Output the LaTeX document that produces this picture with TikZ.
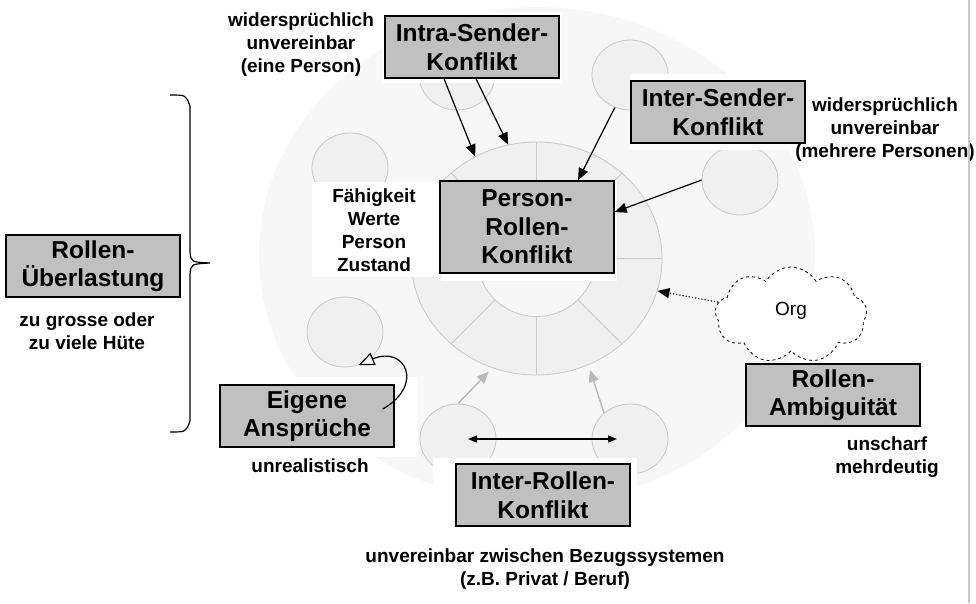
\documentclass[tikz,border=0pt]{standalone}
\usepackage{fontspec}
\setmainfont{Liberation Sans}
\usetikzlibrary{arrows.meta,calc,shapes.geometric,shapes.symbols}

\definecolor{boxgray}{RGB}{192,192,192}
\definecolor{bggray}{RGB}{247,247,247}
\definecolor{ringgray}{RGB}{240,240,240}
\definecolor{edgegray}{RGB}{200,200,200}
\definecolor{arrgray}{RGB}{185,185,185}

\newcommand{\boxfont}{\fontsize{24.5}{28.5}\selectfont\bfseries}
\newcommand{\lblfont}{\fontsize{19}{23}\selectfont\bfseries}

\begin{document}
\begin{tikzpicture}[x=1pt,y=-1pt,
  box/.style={draw,line width=1.5pt,fill=boxgray,align=center,font=\boxfont,
    minimum width=174pt,minimum height=62pt,inner sep=0pt},
  lbl/.style={align=center,font=\lblfont,inner sep=0pt},
  bub/.style={ellipse,draw=edgegray,fill=ringgray,line width=0.8pt,inner sep=0pt,
    minimum width=76pt,minimum height=70pt},
  arr/.style={-{Triangle[length=12pt,width=10pt]},line width=1.2pt},
  garr/.style={arr,arrgray,line width=1.4pt}]
  \useasboundingbox (0,0) rectangle (976,603);
  % background disc
  \fill[bggray] (537,255) ellipse [x radius=278, y radius=248];
  % ring of the person
  \node[ellipse,draw=edgegray,fill=ringgray,line width=0.8pt,inner sep=0pt,
    minimum width=251pt,minimum height=233pt] (ring) at (536.5,258.5) {};
  \node[ellipse,draw=edgegray,fill=bggray,line width=0.8pt,inner sep=0pt,
    minimum width=118pt,minimum height=116pt] (core) at (ring.center) {};
  \foreach \a in {0,45,...,315}
    \draw[edgegray,line width=0.8pt] (core.\a) -- (ring.\a);
  % senders
  \node[bub] (ctc) at (457,75) {};
  \node[bub] (ctr) at (630,75) {};
  \node[bub] (cr) at (740,180) {};
  \node[bub] (cul) at (350,168) {};
  \node[bub] (cll) at (345,332) {};
  \node[bub] (cbl) at (458,439) {};
  \node[bub] (cbr) at (630,439) {};
  % white patches behind the texts
  \fill[white] (382,12) rectangle (562,83);
  \fill[white] (630,74) rectangle (812,150);
  \fill[white] (312,182) rectangle (440,277);
  \fill[white] (441,181) rectangle (617,281);
  \fill[white] (215,377) rectangle (418,457);
  \fill[white] (433,458) rectangle (637,540);

  \node[box] (intra) at (472,47) {Intra-Sender-\\Konflikt};
  \node[box] (isend) at (718,112) {Inter-Sender-\\Konflikt};
  \node[box,minimum height=92pt] (prk) at (527,227) {Person-\\Rollen-\\Konflikt};
  \node[box] (ueber) at (93,266) {Rollen-\\Überlastung};
  \node[box] (eigen) at (307,416) {Eigene\\Ansprüche};
  \node[box] (irk) at (543,495) {Inter-Rollen-\\Konflikt};
  \node[box] (amb) at (833,395) {Rollen-\\Ambiguität};
  \node[cloud,cloud puffs=9,cloud puff arc=120,aspect=1.6,draw,dashed,fill=white,
    line width=0.8pt,minimum width=152pt,minimum height=96pt,inner sep=0pt,
    font=\fontsize{19}{23}\selectfont] (org) at (791,315) {\raisebox{12pt}{Org}};

  \node[lbl] (lintra) at (301,45) {widersprüchlich\\unvereinbar\\(eine Person)};
  \node[lbl] (lisend) at (885,130) {widersprüchlich\\unvereinbar\\(mehrere Personen)};
  \node[lbl] (lfaeh) at (374,230) {Fähigkeit\\Werte\\Person\\Zustand};
  \node[lbl] (lueber) at (87,331) {zu grosse oder\\zu viele Hüte};
  \node[lbl] (leigen) at (310,466) {unrealistisch};
  \node[lbl] (lamb) at (887,457) {unscharf\\mehrdeutig};
  \node[lbl] (lirk) at (545,569) {unvereinbar zwischen Bezugssystemen\\(z.B. Privat / Beruf)};

  % brace for Rollen-Ueberlastung
  \draw[line width=1.2pt] (170,95) .. controls (186,95) .. (190,106) -- (190,252)
    .. controls (191,262) .. (210,263) .. controls (191,264) .. (190,274) -- (190,421)
    .. controls (186,432) .. (170,432);
  \draw[edgegray,line width=2pt] (969,0) -- (969,603);

  \draw[arr] ($(intra.south)+(-28,0)$) -- (ring.121);
  \draw[arr] ($(intra.south)+(4,0)$) -- (ring.104);
  \draw[arr] (ctr.-115) -- ($(prk.north)+(51,0)$);
  \draw[arr] (cr.west) -- ($(prk.east)+(0,-15)$);
  \draw[arr,dotted] (org.170) -- (ring.-15);
  \draw[garr,shorten >=5pt] (cbl.north) -- (ring.-112);
  \draw[garr,shorten >=5pt] (cbr.135) -- (ring.-64);
  \draw[{Triangle[length=9pt,width=7pt]}-{Triangle[length=9pt,width=7pt]},line width=1.2pt,
    shorten <=10pt,shorten >=13pt] (cbl.center) -- (cbr.center);
  \draw[-{Triangle[length=16pt,width=13pt,fill=white]},line width=1.2pt]
    ($(eigen.east)+(-12,-7)$) .. controls (425,385) and (405,345) .. (cll.-68);
\end{tikzpicture}
\end{document}
